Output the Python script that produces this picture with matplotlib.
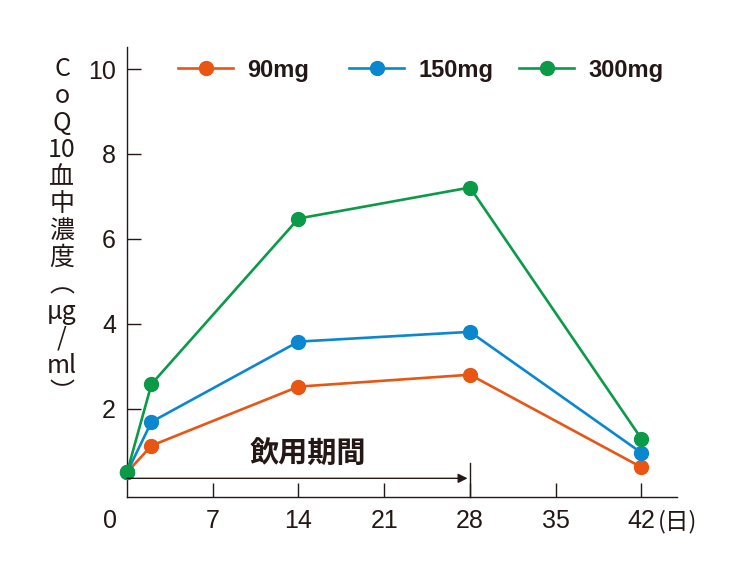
import matplotlib
matplotlib.use("Agg")
import matplotlib.pyplot as plt
from matplotlib import font_manager
from matplotlib.lines import Line2D
import matplotlib.transforms as mtrans

# ---- data ----
days = [0, 2, 14, 28, 42]
series_names = ["90mg", "150mg", "300mg"]
vals_90 = [0.5, 1.13, 2.52, 2.80, 0.62]
vals_150 = [0.5, 1.69, 3.58, 3.81, 0.96]
vals_300 = [0.5, 2.58, 6.48, 7.21, 1.29]
colors = ["#E95513", "#0A87CF", "#0A9A48"]
x_ticks = [0, 7, 14, 21, 28, 35, 42]
y_ticks = [2, 4, 6, 8, 10]
dose_end = 28
dose_label = "飲用期間"
ylabel_chars = ["C", "o", "Q", "10", "血", "中", "濃", "度", "︵", "μg", "/", "ml", "︶"]
unit_label = "(日)"

avail = {f.name for f in font_manager.fontManager.ttflist}
num_font = "Liberation Sans Narrow" if "Liberation Sans Narrow" in avail else "Liberation Sans"
jp = "Noto Sans CJK JP"
ink = "#231815"

plt.rcParams["font.family"] = [num_font, jp, "DejaVu Sans"]

fig = plt.figure(figsize=(7.5, 5.74), dpi=100)
ax = fig.add_axes([127/750, 1-497/574, (677-127)/750, (497-47)/574])

lines = []
for vals, c, name in zip([vals_90, vals_150, vals_300], colors, series_names):
    ln, = ax.plot(days, vals, color=c, lw=1.9, marker="o", ms=10, mec=c, mfc=c,
                  label=name, zorder=3, clip_on=False)
    lines.append(ln)

ax.set_xlim(0, 44.9)
ax.set_ylim(-0.08, 10.52)
for s in ["top", "right"]:
    ax.spines[s].set_visible(False)
for s in ["left", "bottom"]:
    ax.spines[s].set_color(ink)
    ax.spines[s].set_linewidth(1.0)

ax.set_xticks(x_ticks)
ax.set_xticklabels([str(t) for t in x_ticks])
ax.set_yticks(y_ticks)
ax.set_yticklabels([str(t) for t in y_ticks])
ax.tick_params(axis="both", direction="in", length=10, width=1.0, color=ink,
               labelcolor=ink, labelsize=18)
ax.tick_params(axis="x", pad=9)
ax.tick_params(axis="y", pad=8)
xt = ax.xaxis.get_major_ticks()
xt[0].tick1line.set_visible(False)
off = mtrans.ScaledTranslation(-17/100, 0, fig.dpi_scale_trans)
xt[0].label1.set_transform(xt[0].label1.get_transform() + off)

# unit label next to 42
ax.annotate(unit_label, xy=(42, 0), xycoords=("data", "axes fraction"),
            xytext=(11.5, -17.5), textcoords="offset points", ha="left", va="center",
            fontsize=17, color=ink, family=[jp])

# dosing period arrow
ax.annotate("", xy=(dose_end - 0.2, 0.36), xytext=(0, 0.36),
            arrowprops=dict(arrowstyle="-|>", color=ink, lw=1.0,
                            mutation_scale=14, shrinkA=0, shrinkB=0))
ax.plot([dose_end, dose_end], [-0.08, 0.72], color=ink, lw=1.0, clip_on=False)
ax.text(14.8, 0.95, dose_label, ha="center", va="center", fontsize=21,
        fontweight="bold", color=ink, family=[jp])

# y label, vertical
fig.text(62/750, 1-231/574, "\n".join(ylabel_chars), ha="center", va="center",
         ma="center", fontsize=18, color=ink, linespacing=1.05,
         family=[jp, "DejaVu Sans"])

# legend: one entry per legend, anchored at the line start
leg_x = [178/750, 349/750, 519/750]
for ln, name, lx in zip(lines, series_names, leg_x):
    h = Line2D([], [], color=ln.get_color(), lw=1.9, marker="o", ms=10)
    leg = fig.legend([h], [name], loc="center left",
                     bbox_to_anchor=(lx, 1-70/574), bbox_transform=fig.transFigure,
                     frameon=False, borderpad=0, borderaxespad=0,
                     handlelength=2.33, handletextpad=0.6,
                     prop=dict(family=[num_font], weight="bold", size=17))
    for t in leg.get_texts():
        t.set_color(ink)

fig.savefig("out.png", dpi=100)
